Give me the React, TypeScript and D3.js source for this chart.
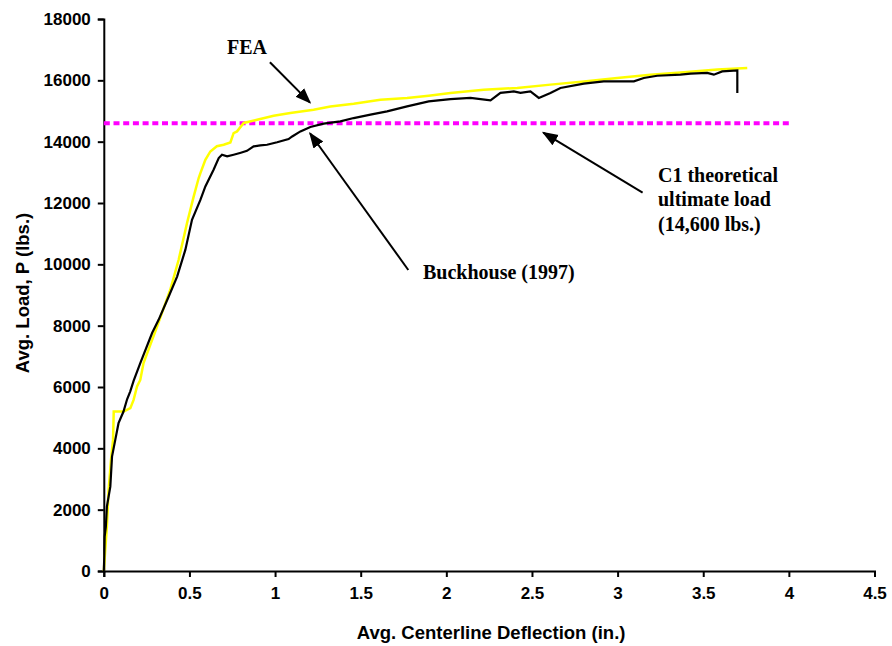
import React, { useRef, useEffect } from "react";
import * as d3 from "d3";

// Buckhouse (1997) test curve: [deflection (in.), load (lbs.)]
const buckhouse: [number, number][] = [
  [0, 0], [0.003, 500], [0.005, 1120], [0.012, 1445], [0.018, 2100], [0.038, 2750],
  [0.048, 3730], [0.067, 4275], [0.086, 4820], [0.115, 5200], [0.136, 5600],
  [0.154, 5850], [0.174, 6200], [0.213, 6780], [0.282, 7760], [0.32, 8190],
  [0.379, 8950], [0.428, 9600], [0.476, 10470], [0.515, 11450], [0.564, 12100],
  [0.593, 12540], [0.641, 13085], [0.671, 13465], [0.69, 13575], [0.72, 13520],
  [0.758, 13575], [0.8, 13640], [0.836, 13700], [0.875, 13845], [0.914, 13880],
  [0.953, 13900], [1.012, 13980], [1.079, 14085], [1.1, 14170], [1.148, 14335],
  [1.206, 14480], [1.284, 14590], [1.381, 14660], [1.459, 14770], [1.557, 14880],
  [1.654, 14990], [1.771, 15150], [1.897, 15315], [2.024, 15390], [2.141, 15425],
  [2.258, 15350], [2.316, 15590], [2.394, 15640], [2.433, 15590], [2.491, 15640],
  [2.54, 15425], [2.608, 15590], [2.666, 15750], [2.803, 15890], [2.919, 15965],
  [3.095, 15965], [3.153, 16075], [3.231, 16150], [3.367, 16185], [3.426, 16217],
  [3.523, 16240], [3.562, 16185], [3.611, 16290], [3.699, 16325], [3.699, 15590],
];

// FEA curve
const fea: [number, number][] = [
  [0, 0], [0.018, 1445], [0.028, 2640], [0.042, 3620], [0.054, 4275], [0.058, 5200],
  [0.116, 5200], [0.155, 5310], [0.174, 5580], [0.194, 6015], [0.213, 6230],
  [0.232, 6780], [0.311, 7970], [0.388, 9170], [0.437, 10150], [0.486, 11345],
  [0.525, 12215], [0.554, 12815], [0.564, 12975], [0.593, 13410], [0.622, 13680],
  [0.66, 13850], [0.7, 13900], [0.739, 13975], [0.758, 14280], [0.778, 14335],
  [0.817, 14610], [0.895, 14715], [0.992, 14845], [1.089, 14935], [1.225, 15040],
  [1.323, 15150], [1.459, 15240], [1.615, 15370], [1.771, 15425], [1.897, 15500],
  [2.024, 15590], [2.218, 15695], [2.414, 15750], [2.608, 15860], [2.803, 15965],
  [2.998, 16075], [3.192, 16185], [3.387, 16260], [3.582, 16350], [3.757, 16400],
];

const ultimateLoad = 14600;
const ultimateExtent = [0, 4.0];

const xTicks = [0, 0.5, 1, 1.5, 2, 2.5, 3, 3.5, 4, 4.5];
const yTicks = [0, 2000, 4000, 6000, 8000, 10000, 12000, 14000, 16000, 18000];

// annotation arrows in data units: [fromX, fromY, toX, toY]
const arrows = [
  [0.97, 16590, 1.204, 15272],
  [1.778, 9816, 1.204, 14274],
  [3.146, 12337, 2.566, 14293],
];

const W = 892;
const H = 646;

export default function App() {
  const ref = useRef<SVGSVGElement>(null);

  useEffect(() => {
    const svg = d3.select(ref.current);
    svg.selectAll("*").remove();

    const x = d3.scaleLinear().domain([0, 4.5]).range([103.8, 874.5]);
    const y = d3.scaleLinear().domain([0, 18000]).range([571, 19]);

    svg
      .append("defs")
      .append("marker")
      .attr("id", "arrowhead")
      .attr("viewBox", "0 0 10 10")
      .attr("refX", 9)
      .attr("refY", 5)
      .attr("markerWidth", 8)
      .attr("markerHeight", 8)
      .attr("markerUnits", "strokeWidth")
      .attr("orient", "auto")
      .append("path")
      .attr("d", "M0,1.2 L10,5 L0,8.8 z")
      .attr("fill", "#000");

    // axes
    const xAxis = svg
      .append("g")
      .attr("transform", `translate(0,${y(0)})`)
      .call(d3.axisBottom(x).tickValues(xTicks).tickSize(6).tickPadding(10).tickFormat(d3.format("")));
    const yAxis = svg
      .append("g")
      .attr("transform", `translate(${x(0)},0)`)
      .call(d3.axisLeft(y).tickValues(yTicks).tickSize(6).tickPadding(7).tickFormat(d3.format("d")));

    [xAxis, yAxis].forEach((g) => {
      g.select(".domain").attr("stroke", "#000").attr("stroke-width", 2);
      g.selectAll(".tick line").attr("stroke", "#000").attr("stroke-width", 2);
      g.selectAll(".tick text")
        .attr("fill", "#000")
        .style("font-family", "'Liberation Sans', Arial, sans-serif")
        .style("font-weight", "bold")
        .style("font-size", "17px");
    });

    // axis titles
    svg
      .append("text")
      .attr("x", (x(0) + x(4.5)) / 2 + 2)
      .attr("y", 639)
      .attr("text-anchor", "middle")
      .style("font-family", "'Liberation Sans', Arial, sans-serif")
      .style("font-weight", "bold")
      .style("font-size", "18.5px")
      .text("Avg. Centerline Deflection (in.)");

    svg
      .append("text")
      .attr("transform", "rotate(-90)")
      .attr("x", -293)
      .attr("y", 29)
      .attr("text-anchor", "middle")
      .style("font-family", "'Liberation Sans', Arial, sans-serif")
      .style("font-weight", "bold")
      .style("font-size", "18.5px")
      .text("Avg. Load, P (lbs.)");

    // theoretical ultimate load
    svg
      .append("line")
      .attr("x1", x(ultimateExtent[0]))
      .attr("x2", x(ultimateExtent[1]))
      .attr("y1", y(ultimateLoad))
      .attr("y2", y(ultimateLoad))
      .attr("stroke", "#ff00ff")
      .attr("stroke-width", 4)
      .attr("stroke-dasharray", "6 3.7");

    const line = d3
      .line<[number, number]>()
      .x((d) => x(d[0]))
      .y((d) => y(d[1]));

    svg
      .append("path")
      .datum(fea)
      .attr("fill", "none")
      .attr("stroke", "#ffff00")
      .attr("stroke-width", 2.5)
      .attr("d", line);

    svg
      .append("path")
      .datum(buckhouse)
      .attr("fill", "none")
      .attr("stroke", "#000")
      .attr("stroke-width", 2.2)
      .attr("d", line);

    // annotations
    svg
      .selectAll("line.arrow")
      .data(arrows)
      .join("line")
      .attr("class", "arrow")
      .attr("x1", (d) => x(d[0]))
      .attr("y1", (d) => y(d[1]))
      .attr("x2", (d) => x(d[2]))
      .attr("y2", (d) => y(d[3]))
      .attr("stroke", "#000")
      .attr("stroke-width", 2)
      .attr("marker-end", "url(#arrowhead)");

    const serif = (sel: any) =>
      sel
        .style("font-family", "'Liberation Serif', 'Times New Roman', serif")
        .style("font-weight", "bold")
        .style("font-size", "20px")
        .attr("fill", "#000");

    svg.append("text").attr("x", 227).attr("y", 54).text("FEA").call(serif);
    svg.append("text").attr("x", 423).attr("y", 279).text("Buckhouse (1997)").call(serif);
    const c1 = svg.append("text").attr("x", 658).attr("y", 182).call(serif);
    ["C1 theoretical", "ultimate load", "(14,600 lbs.)"].forEach((t, i) => {
      c1.append("tspan").attr("x", 658).attr("dy", i === 0 ? 0 : 24.3).text(t);
    });
  }, []);

  return (
    <svg
      ref={ref}
      width={W}
      height={H}
      style={{ position: "absolute", left: 0, top: 0, background: "#fff" }}
    ></svg>
  );
}
